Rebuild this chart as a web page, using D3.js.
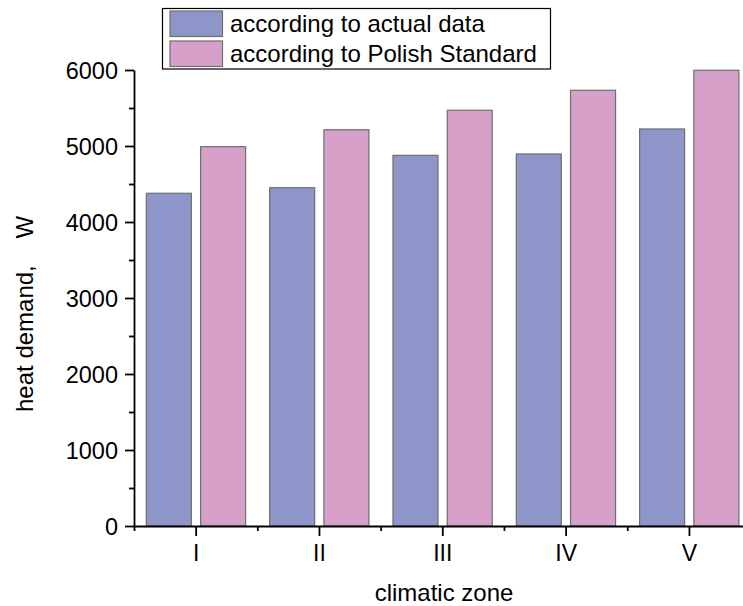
<!DOCTYPE html>
<html>
<head>
<meta charset="utf-8">
<script src="https://cdn.jsdelivr.net/npm/d3@7"></script>
<style>
  body { margin: 0; background: #fff; }
  text { font-family: "Liberation Sans", Arial, sans-serif; fill: #000; }
</style>
</head>
<body>
<script>
// data
var zones = ["I", "II", "III", "IV", "V"];
var actual = [4378, 4451, 4877, 4895, 5224];
var polish = [4991, 5214, 5470, 5733, 5996];
var seriesNames = ["according to actual data", "according to Polish Standard"];
var yTicks = [0, 1000, 2000, 3000, 4000, 5000, 6000];

var colors = ["#8e95c9", "#d6a0c8"];

var W = 743, H = 606;
var svg = d3.select("body").append("svg")
  .attr("width", W)
  .attr("height", H);

var x = d3.scaleLinear()
  .domain([0.5, zones.length + 0.5])
  .range([134, 750.6]);

var y = d3.scaleLinear()
  .domain([0, 6000])
  .range([526, 70]);

// bar offsets in category units
var barW = 0.365, off = [-0.4, 0.04];

var series = [actual, polish];
series.forEach(function(vals, s) {
  svg.append("g").selectAll("rect")
    .data(vals).enter()
    .append("rect")
    .attr("x", function(d, i) { return x(i + 1 + off[s]); })
    .attr("width", x(1 + barW) - x(1))
    .attr("y", function(d) { return y(d); })
    .attr("height", function(d) { return y(0) - y(d); })
    .style("fill", colors[s])
    .style("stroke", "#6e6e6e")
    .style("stroke-width", 1.2);
});

// y axis
var yAxis = d3.axisLeft(y)
  .tickValues(yTicks)
  .tickSize(9)
  .tickSizeOuter(0)
  .tickPadding(7)
  .tickFormat(d3.format("d"));

var gy = svg.append("g")
  .attr("transform", "translate(134,0)")
  .call(yAxis);

svg.append("g")
  .attr("transform", "translate(134,0)")
  .call(d3.axisLeft(y).tickValues(d3.range(500, 6000, 1000)).tickSize(5).tickFormat(""))
  .select(".domain").remove();

// x axis
var xAxis = d3.axisBottom(x)
  .tickValues(d3.range(1, zones.length + 1))
  .tickSize(10)
  .tickSizeOuter(0)
  .tickPadding(9)
  .tickFormat(function(d) { return zones[d - 1]; });

var gx = svg.append("g")
  .attr("transform", "translate(0,526)")
  .call(xAxis);

svg.append("g")
  .attr("transform", "translate(0,526)")
  .call(d3.axisBottom(x).tickValues(d3.range(0.5, zones.length + 1, 1)).tickSize(5).tickFormat(""))
  .select(".domain").remove();

svg.selectAll(".domain, .tick line")
  .style("stroke", "#000")
  .style("stroke-width", 1.8);

gy.selectAll("text").style("font-size", "23.5px").attr("dy", "0.36em");
gx.selectAll("text").style("font-size", "23px").attr("dy", "0.68em");

// axis titles
svg.append("text")
  .attr("x", 444)
  .attr("y", 601)
  .attr("text-anchor", "middle")
  .style("font-size", "24px")
  .text("climatic zone");

svg.append("text")
  .attr("transform", "translate(33,412) rotate(-90)")
  .attr("text-anchor", "start")
  .style("font-size", "24px")
  .style("white-space", "pre")
  .text("heat demand,    W");

// legend
var lg = svg.append("g");
lg.append("rect")
  .attr("x", 162.5).attr("y", 8.5)
  .attr("width", 388).attr("height", 60.5)
  .style("fill", "#fff")
  .style("stroke", "#000")
  .style("stroke-width", 1.2);

seriesNames.forEach(function(name, i) {
  lg.append("rect")
    .attr("x", 170).attr("y", 11 + i * 30)
    .attr("width", 52.5).attr("height", 25.5)
    .style("fill", colors[i])
    .style("stroke", "#6e6e6e")
    .style("stroke-width", 1.2);
  lg.append("text")
    .attr("x", 230).attr("y", 32 + i * 30)
    .style("font-size", "24px")
    .text(name);
});
</script>
</body>
</html>
